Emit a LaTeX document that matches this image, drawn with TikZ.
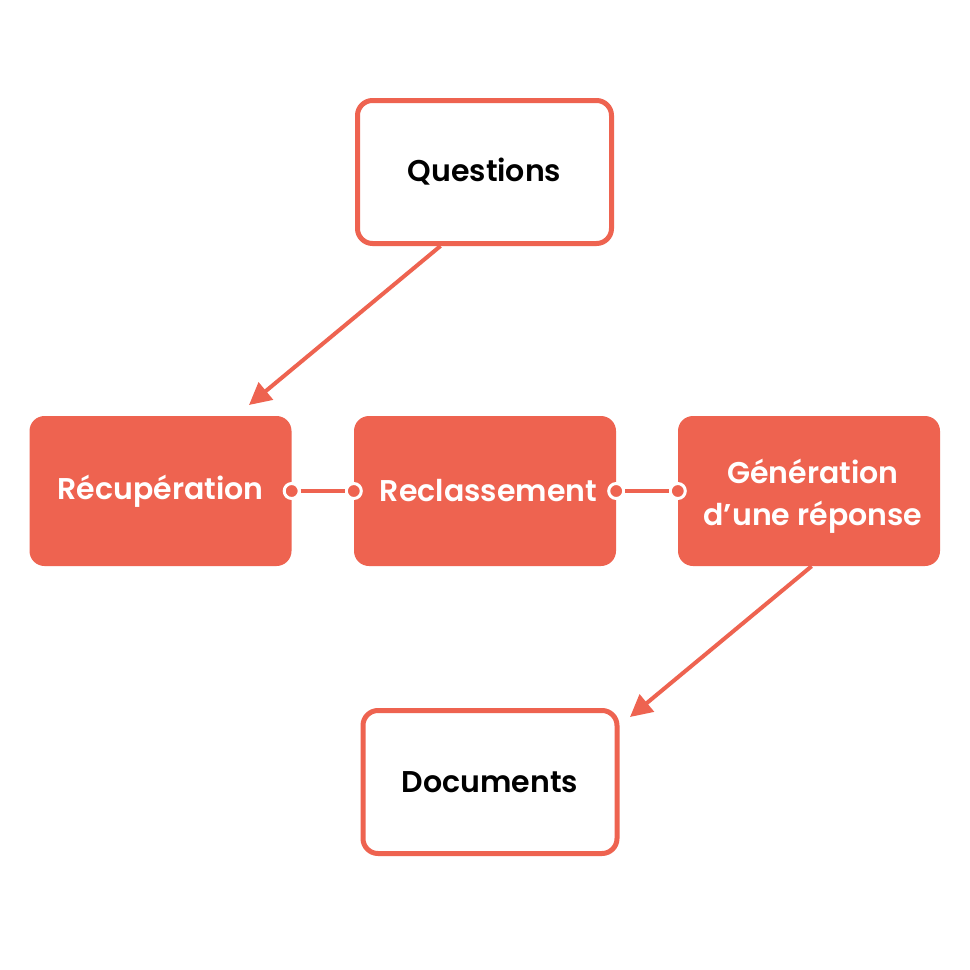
\documentclass[tikz,border=0pt]{standalone}
\usepackage{fontspec}
\setmainfont{Poppins}[BoldFont={* SemiBold}]
\usetikzlibrary{arrows.meta,calc}
\definecolor{coral}{RGB}{238,99,80}
\tikzset{
  outbox/.style={draw=coral,line width=5pt,fill=white,rounded corners=15pt,minimum width=254pt,minimum height=143pt,inner sep=0pt,text=black,font=\bfseries\fontsize{30}{42}\selectfont,align=center},
  fillbox/.style={fill=coral,rounded corners=15pt,minimum width=262pt,minimum height=150pt,inner sep=0pt,text=white,font=\bfseries\fontsize{30}{42}\selectfont,align=center},
  flow/.style={draw=coral,line width=4pt,-{Triangle[length=22pt,width=22pt]}},
  link/.style={draw=coral,line width=4pt},
  dot/.style={circle,fill=coral,draw=white,line width=3pt,minimum size=15pt,inner sep=0pt}
}
\begin{document}
\begin{tikzpicture}[x=1pt,y=-1pt]
\useasboundingbox[fill=white] (0,0) rectangle (970,970);
\node[outbox] (Q) at (484.5,172) {Questions};
\node[fillbox] (R) at (160.5,491) {Récupération};
\node[fillbox] (C) at (485,491) {\hspace*{7pt}Reclassement};
\node[fillbox] (G) at (809,491) {\raisebox{0pt}[\dimexpr\height+10pt\relax][\depth]{\begin{tabular}{@{}c@{}}\hspace*{8pt}Génération\\\hspace*{8pt}d’une réponse\end{tabular}}};
\node[outbox] (D) at (490,782) {Documents};
\coordinate (t1) at (249,405);
\coordinate (t2) at (630,717);
\draw[flow] ($(Q.south west)!0.33!(Q.south east)$) -- (t1);
\draw[flow] ($(G.south west)!0.51!(G.south east)$) -- (t2);
\node[dot] (a1) at (R.east) {};
\node[dot] (a2) at (C.west) {};
\node[dot] (b1) at (C.east) {};
\node[dot] (b2) at (G.west) {};
\draw[link] (a1) -- (a2);
\draw[link] (b1) -- (b2);
\end{tikzpicture}
\end{document}
